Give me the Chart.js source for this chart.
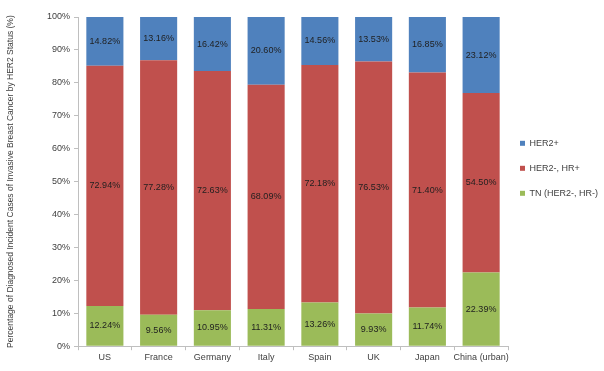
<!DOCTYPE html>
<html>
<head>
<meta charset="utf-8">
<script src="https://cdn.jsdelivr.net/npm/chart.js@4"></script>
<style>
  html, body { margin: 0; padding: 0; background: #fff; }
  #wrap { width: 604px; height: 371px; }
</style>
</head>
<body>
<div id="wrap"><canvas id="her2Chart" width="604" height="371"></canvas></div>
<script>
const countries = ['US', 'France', 'Germany', 'Italy', 'Spain', 'UK', 'Japan', 'China (urban)'];
const tnValues = [12.24, 9.56, 10.95, 11.31, 13.26, 9.93, 11.74, 22.39];
const hrPosValues = [72.94, 77.28, 72.63, 68.09, 72.18, 76.53, 71.40, 54.50];
const her2PosValues = [14.82, 13.16, 16.42, 20.60, 14.56, 13.53, 16.85, 23.12];
const yTicks = [0, 10, 20, 30, 40, 50, 60, 70, 80, 90, 100];

const FONT = "'Liberation Sans', Arial, sans-serif";

// draws the percentage in the middle of every bar segment
const segmentLabels = {
    id: 'segmentLabels',
    afterDatasetsDraw(chart) {
        const ctx = chart.ctx;
        ctx.save();
        ctx.font = '9px ' + FONT;
        ctx.fillStyle = '#1f1f1f';
        ctx.textAlign = 'center';
        ctx.textBaseline = 'middle';
        chart.data.datasets.forEach((ds, i) => {
            const meta = chart.getDatasetMeta(i);
            meta.data.forEach((bar, j) => {
                const mid = (bar.y + bar.base) / 2;
                ctx.fillText(ds.data[j].toFixed(2) + '%', bar.x, mid);
            });
        });
        ctx.restore();
    }
};

// nudge the legend a little to the left, closer to the bars
const legendShift = {
    id: 'legendShift',
    afterLayout(chart) {
        if (chart.legend) {
            chart.legend.left -= 4;
            chart.legend.right -= 4;
        }
    }
};

const ctx = document.getElementById('her2Chart').getContext('2d');

const chart = new Chart(ctx, {
    type: 'bar',
    data: {
        labels: countries,
        datasets: [
            { label: 'TN (HER2-, HR-)', data: tnValues, backgroundColor: '#9bbb59' },
            { label: 'HER2-, HR+', data: hrPosValues, backgroundColor: '#c0504d' },
            { label: 'HER2+', data: her2PosValues, backgroundColor: '#4f81bd' }
        ]
    },
    options: {
        responsive: false,
        animation: false,
        devicePixelRatio: 1,
        categoryPercentage: 1,
        barPercentage: 0.69,
        layout: { padding: { top: 17, right: 0, bottom: 6, left: 0 } },
        plugins: {
            legend: {
                position: 'right',
                align: 'start',
                reverse: true,
                maxWidth: 96,
                title: {
                    display: true,
                    text: ' ',
                    font: { size: 9 },
                    padding: { top: 95, bottom: 0 }
                },
                labels: {
                    boxWidth: 5,
                    boxHeight: 5,
                    padding: 16,
                    color: '#404040',
                    font: { family: FONT, size: 9 }
                }
            },
            tooltip: { enabled: false }
        },
        scales: {
            x: {
                stacked: true,
                grid: {
                    display: true,
                    drawOnChartArea: false,
                    tickLength: 4,
                    color: '#bfbfbf'
                },
                border: { color: '#bfbfbf' },
                ticks: {
                    color: '#404040',
                    font: { family: FONT, size: 9 },
                    padding: 2,
                    autoSkip: false,
                    maxRotation: 0
                }
            },
            y: {
                stacked: true,
                min: 0,
                max: 100,
                afterBuildTicks: (scale) => {
                    scale.ticks = yTicks.map(v => ({ value: v }));
                },
                afterFit: (scale) => { scale.width = 78; },
                grid: {
                    display: true,
                    drawOnChartArea: false,
                    tickLength: 4,
                    color: '#bfbfbf'
                },
                border: { color: '#bfbfbf' },
                ticks: {
                    color: '#404040',
                    font: { family: FONT, size: 9 },
                    padding: 4,
                    callback: v => v + '%'
                },
                title: {
                    display: true,
                    text: 'Percentage of Diagnosed Incident Cases of Invasive Breast Cancer by HER2 Status (%)',
                    color: '#404040',
                    font: { family: FONT, size: 8.5 },
                    padding: { top: 6, bottom: 0 }
                }
            }
        }
    },
    plugins: [segmentLabels, legendShift]
});
</script>
</body>
</html>
